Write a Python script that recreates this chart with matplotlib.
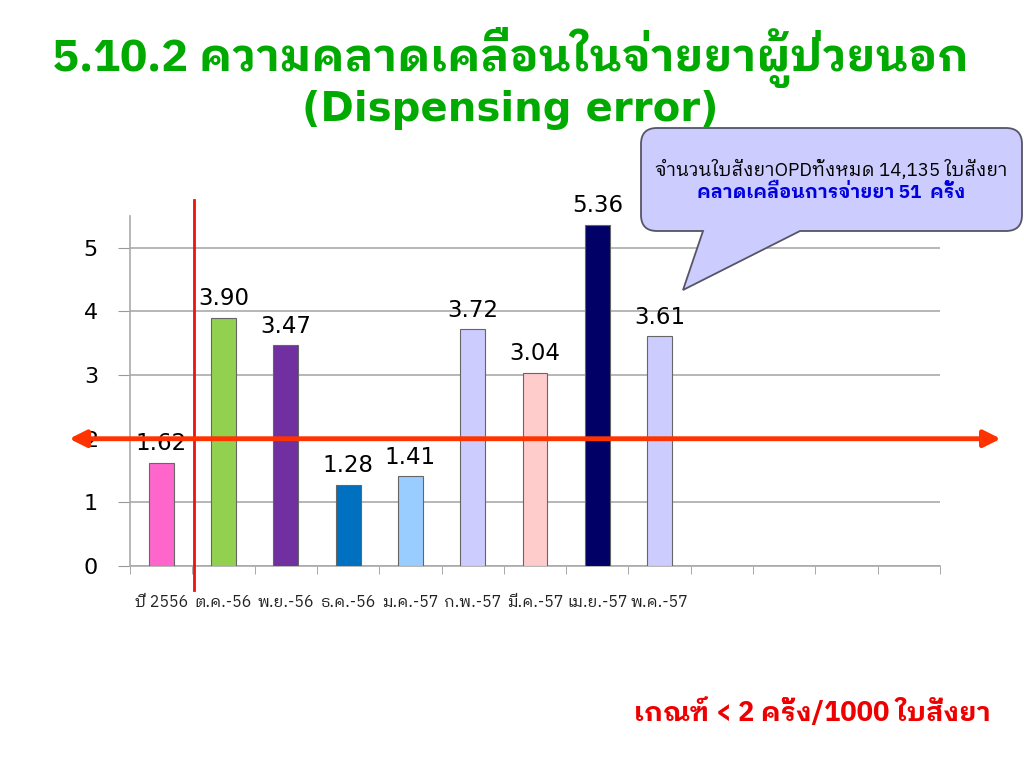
import matplotlib
matplotlib.use("Agg")
import matplotlib.pyplot as plt
from matplotlib.path import Path
from matplotlib.patches import PathPatch
import numpy as np

plt.rcParams['font.family'] = ['DejaVu Sans', 'Noto Sans Thai Looped', 'Noto Sans Thai']
THAI = ['IBM Plex Sans Thai Looped', 'Noto Sans Thai Looped', 'DejaVu Sans']

categories = ["ปี 2556", "ต.ค.-56", "พ.ย.-56", "ธ.ค.-56", "ม.ค.-57", "ก.พ.-57",
              "มี.ค.-57", "เม.ย.-57", "พ.ค.-57", "", "", "", ""]
values = [1.62, 3.90, 3.47, 1.28, 1.41, 3.72, 3.04, 5.36, 3.61]
value_labels = ["1.62", "3.90", "3.47", "1.28", "1.41", "3.72", "3.04", "5.36", "3.61"]
colors = ["#FF66CC", "#92D050", "#7030A0", "#0070C0", "#99CCFF", "#CCCCFF",
          "#FFCCCC", "#000066", "#CCCCFF"]
yticks = [0, 1, 2, 3, 4, 5]
threshold = 2

title1 = "5.10.2 ความคลาดเคลื่อนในจ่ายยาผู้ป่วยนอก"
title2 = "(Dispensing error)"
callout1 = "จำนวนใบสั่งยาOPDทั้งหมด 14,135 ใบสั่งยา"
callout2 = "คลาดเคลื่อนการจ่ายยา 51  ครั้ง"
criteria = "เกณฑ์ < 2 ครั้ง/1000 ใบสั่งยา"

W, H = 1024, 768
fig = plt.figure(figsize=(W / 100, H / 100), dpi=100)
ax = fig.add_axes([130 / W, 1 - 566 / H, 810 / W, (566 - 216) / H])

n = len(categories)
x = np.arange(len(values))
ax.bar(x, values, width=0.4, color=colors, edgecolor="#666666", linewidth=0.8, zorder=3)
for xi, v, lab in zip(x, values, value_labels):
    ax.text(xi, v + 0.12, lab, ha="center", va="bottom", fontsize=16.5, color="black", zorder=4)

ax.set_xlim(-0.5, n - 0.5)
ax.set_ylim(0, 5.5)
ax.set_yticks(yticks)
ax.set_yticklabels([str(t) for t in yticks], fontsize=16)
ax.set_xticks(np.arange(n))
ax.set_xticklabels(categories, fontsize=11.5, color="#222222", family=THAI)
ax.set_xticks(np.arange(n + 1) - 0.5, minor=True)
ax.tick_params(axis="x", which="major", length=0, pad=20)
ax.tick_params(axis="x", which="minor", length=6, color="#999999", direction="out")
ax.tick_params(axis="y", length=9, color="#999999", pad=14)
ax.grid(axis="y", color="#AAAAAA", linewidth=1.2, zorder=0)
for s in ["top", "right"]:
    ax.spines[s].set_visible(False)
ax.spines["left"].set_color("#AAAAAA")
ax.spines["bottom"].set_color("#AAAAAA")
ax.spines["left"].set_linewidth(1.2)
ax.spines["bottom"].set_linewidth(1.2)

# red vertical separator
ax.plot([0.53, 0.53], [-0.38, 5.75], color="#EE1111", linewidth=2, clip_on=False, zorder=5)

# threshold arrow
ax.annotate("", xy=(1.075, threshold), xytext=(-0.075, threshold),
            xycoords=("axes fraction", "data"), textcoords=("axes fraction", "data"),
            arrowprops=dict(arrowstyle="<|-|>,head_length=1.0,head_width=0.5",
                            color="#FF3300", lw=3.5, shrinkA=0, shrinkB=0),
            zorder=6, annotation_clip=False)

# titles
green = "#00AA00"
fig.text(510 / W, 1 - 58 / H, title1, ha="center", va="center", fontsize=32.5,
         fontweight="bold", color=green, family=THAI)
fig.text(510 / W, 1 - 110 / H, title2, ha="center", va="center", fontsize=29,
         fontweight="bold", color=green)

# callout box with tail
def fp(px, py):
    return (px / W, 1 - py / H)

x0, x1, y0, y1, r = 641, 1022, 128, 231, 16
tail_l, tail_r, tip = 703, 800, (683, 290)
verts = [fp(x0 + r, y0), fp(x1 - r, y0), fp(x1, y0), fp(x1, y0 + r),
         fp(x1, y1 - r), fp(x1, y1), fp(x1 - r, y1),
         fp(tail_r, y1), fp(*tip), fp(tail_l, y1),
         fp(x0 + r, y1), fp(x0, y1), fp(x0, y1 - r),
         fp(x0, y0 + r), fp(x0, y0), fp(x0 + r, y0), fp(x0 + r, y0)]
codes = [Path.MOVETO, Path.LINETO, Path.CURVE3, Path.CURVE3,
         Path.LINETO, Path.CURVE3, Path.CURVE3,
         Path.LINETO, Path.LINETO, Path.LINETO,
         Path.LINETO, Path.CURVE3, Path.CURVE3,
         Path.LINETO, Path.CURVE3, Path.CURVE3, Path.CLOSEPOLY]
patch = PathPatch(Path(verts, codes), facecolor="#CCCCFF", edgecolor="#555566",
                  linewidth=1.3, transform=fig.transFigure, zorder=10)
fig.add_artist(patch)
fig.text(831 / W, 1 - 170 / H, callout1, ha="center", va="center", fontsize=13.5,
         color="black", zorder=11, family=THAI)
fig.text(831 / W, 1 - 193 / H, callout2, ha="center", va="center", fontsize=13.5,
         fontweight="bold", color="#0000DD", zorder=11, family=THAI)

# criteria text
fig.text(812 / W, 1 - 713 / H, criteria, ha="center", va="center", fontsize=19.5,
         fontweight="bold", color="#EE0000", family=THAI)

fig.savefig("out.png", dpi=100, facecolor="white")
